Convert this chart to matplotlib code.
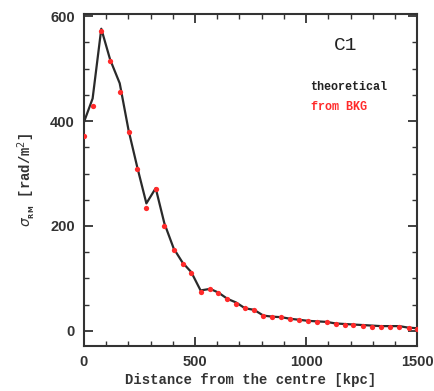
import numpy as np
import matplotlib
matplotlib.use("Agg")
import matplotlib.pyplot as plt
from matplotlib.ticker import MultipleLocator

# radial bins [kpc]
dist = [0, 39, 78, 118, 161, 201, 240, 281, 323, 362, 404, 444, 483, 525,
        568, 605, 646, 685, 725, 766, 808, 848, 889, 928, 970, 1010, 1051,
        1093, 1133, 1174, 1213, 1255, 1296, 1336, 1378, 1419, 1461, 1499]
# sigma_RM recovered from the BKG method [rad/m^2]
sig_bkg = [372, 428, 572, 515, 455, 380, 309, 235, 271, 200, 155, 127, 110,
           74, 79, 72, 60, 52, 43, 39, 28, 26, 26, 22, 20, 18, 17, 16, 13,
           12, 11, 10, 8, 7, 8, 8, 5, 3]
# theoretical sigma_RM [rad/m^2]
sig_th = [398, 443, 576, 517, 472, 382, 312, 243, 272, 205, 157, 130, 112,
          77, 80, 73, 61, 54, 43, 40, 29, 27, 26, 23, 21, 19, 18, 17, 14,
          13, 12, 11, 10, 9, 9, 9, 6, 5]

mono = 'Liberation Mono'
sans = 'Liberation Sans'

fig = plt.figure(figsize=(4.35, 3.91), dpi=100)
ax = fig.add_axes([0.193, 0.115, 0.766, 0.849])

ax.plot(dist, sig_th, color='#2a2a2a', lw=1.6, zorder=2)
ax.plot(dist, sig_bkg, ls='none', marker='o', ms=3.8, color='#ff2a2a',
        mec='none', zorder=3)

ax.set_xlim(0, 1500)
ax.set_ylim(-29, 604)
ax.xaxis.set_major_locator(MultipleLocator(500))
ax.xaxis.set_minor_locator(MultipleLocator(100))
ax.yaxis.set_major_locator(MultipleLocator(200))
ax.yaxis.set_minor_locator(MultipleLocator(50))
ax.tick_params(which='both', direction='in', top=True, right=True,
               color='#333333')
ax.tick_params(which='major', length=6.5, width=1.3, pad=6.5)
ax.tick_params(which='minor', length=3.5, width=1.0)
for lab in ax.get_xticklabels() + ax.get_yticklabels():
    lab.set_fontfamily(sans)
    lab.set_fontweight('bold')
    lab.set_fontsize(10.5)
    lab.set_color('#333333')
[s.set_linewidth(1.5) for s in ax.spines.values()]
[s.set_color('#333333') for s in ax.spines.values()]

ax.set_xlabel('Distance from the centre [kpc]', family=mono,
              fontweight='bold', fontsize=10, color='#333333', labelpad=3)
ax.set_ylabel(r'$\sigma_{_{\mathbf{RM}}}$ [rad/m$^2$]', family=mono,
              fontweight='bold', fontsize=10, color='#333333', labelpad=9)

ax.text(0.785, 0.905, 'C1', transform=ax.transAxes, family=mono,
        fontsize=14, color='#222222', ha='center', va='center')
ax.text(0.68, 0.78, 'theoretical', transform=ax.transAxes, family=mono,
        fontweight='bold', fontsize=8.5, color='#222222', va='center')
ax.text(0.68, 0.72, 'from BKG', transform=ax.transAxes, family=mono,
        fontweight='bold', fontsize=8.5, color='#ff2a2a', va='center')

plt.savefig('out.png', dpi=100)
